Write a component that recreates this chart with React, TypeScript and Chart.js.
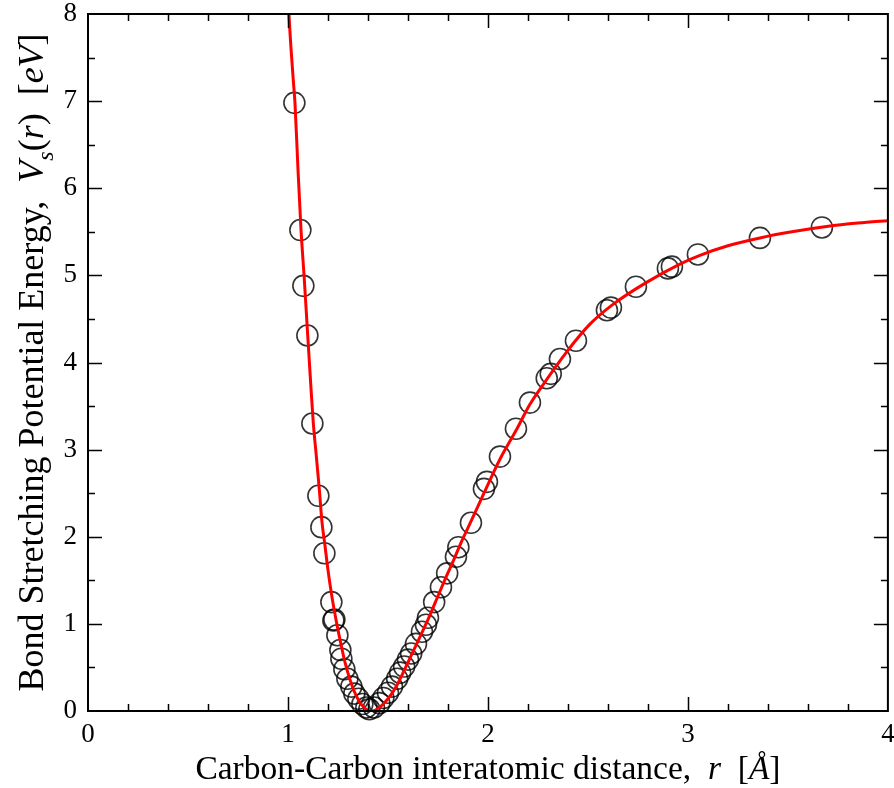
import React, { useEffect, useRef } from "react";
import { Chart, registerables } from "chart.js";

Chart.register(...registerables);

// ---- axis ranges / ticks ----
const X_MIN = 0;
const X_MAX = 4;
const Y_MIN = 0;
const Y_MAX = 8;
const X_MAJOR_STEP = 1;
const X_MINOR_STEP = 0.2;
const Y_MAJOR_STEP = 1;
const Y_MINOR_STEP = 0.5;

// ---- fitted curve (red line) ----
const fitR = [
  1.0, 1.005, 1.0265, 1.035, 1.05, 1.065, 1.0815, 1.0985, 1.1125, 1.1265, 1.1415,
  1.1565, 1.17, 1.185, 1.2, 1.2185, 1.24, 1.26, 1.285, 1.31, 1.34, 1.3685, 1.395,
  1.4185, 1.445, 1.4765, 1.51, 1.5435, 1.58, 1.627, 1.67, 1.71, 1.75, 1.793, 1.83,
  1.865, 1.918, 1.98, 2.06, 2.143, 2.21, 2.277, 2.393, 2.51, 2.627, 2.793, 2.96,
  3.06, 3.2, 3.36, 3.52, 3.693, 3.85, 4.01,
];
const fitV = [
  8.25, 7.99, 7.24, 6.98, 6.22, 5.53, 4.96, 4.32, 3.8, 3.31, 2.93, 2.55, 2.17, 1.9,
  1.62, 1.33, 1.05, 0.82, 0.56, 0.36, 0.18, 0.07, 0.015, 0.0, 0.02, 0.08, 0.17,
  0.29, 0.46, 0.69, 0.9, 1.1, 1.32, 1.55, 1.74, 1.93, 2.19, 2.5, 2.89, 3.23, 3.52,
  3.75, 4.12, 4.44, 4.67, 4.92, 5.13, 5.23, 5.34, 5.43, 5.5, 5.56, 5.6, 5.63,
];

// ---- computed points (open circles) ----
const dataR = [
  1.032, 1.062, 1.077, 1.097, 1.122, 1.152, 1.167, 1.182, 1.217, 1.227, 1.232,
  1.247, 1.262, 1.267, 1.282, 1.297, 1.317, 1.332, 1.352, 1.372, 1.392, 1.407,
  1.43, 1.457, 1.477, 1.5, 1.52, 1.546, 1.561, 1.581, 1.6, 1.616, 1.64, 1.67, 1.69,
  1.7, 1.731, 1.765, 1.796, 1.84, 1.852, 1.915, 1.98, 1.995, 2.06, 2.14, 2.21,
  2.294, 2.314, 2.36, 2.44, 2.595, 2.615, 2.74, 2.9, 2.92, 3.05, 3.36, 3.67,
];
const dataV = [
  6.98, 5.52, 4.88, 4.31, 3.3, 2.47, 2.11, 1.81, 1.25, 1.04, 1.05, 0.87, 0.7, 0.6,
  0.48, 0.37, 0.28, 0.2, 0.14, 0.08, 0.04, 0.02, 0.04, 0.09, 0.15, 0.21, 0.28,
  0.37, 0.44, 0.51, 0.59, 0.66, 0.77, 0.91, 0.99, 1.07, 1.25, 1.42, 1.58, 1.77,
  1.88, 2.16, 2.55, 2.63, 2.92, 3.24, 3.54, 3.82, 3.87, 4.04, 4.25, 4.6, 4.63,
  4.87, 5.08, 5.1, 5.24, 5.43, 5.55,
];

// ---- axis titles (text pieces with styles) ----
type Part = { t: string; italic?: boolean; sub?: boolean };
const xTitleParts: Part[] = [
  { t: "Carbon-Carbon interatomic distance,  " },
  { t: "r", italic: true },
  { t: "  [" },
  { t: "Å", italic: true },
  { t: "]" },
];
const yTitleParts: Part[] = [
  { t: "Bond Stretching Potential Energy,  " },
  { t: "V", italic: true },
  { t: "s", italic: true, sub: true },
  { t: "(" },
  { t: "r", italic: true },
  { t: ")  [" },
  { t: "eV", italic: true },
  { t: "]" },
];

const FONT = '"Liberation Serif", "Times New Roman", serif';
const X_TITLE_SIZE = 33.5;
const Y_TITLE_SIZE = 36;
const TICK_SIZE = 27;

function drawParts(
  ctx: CanvasRenderingContext2D,
  parts: Part[],
  cx: number,
  baseY: number,
  size: number
) {
  const fontFor = (p: Part) =>
    `${p.italic ? "italic " : ""}${p.sub ? Math.round(size * 0.68) : size}px ${FONT}`;
  let total = 0;
  for (const p of parts) {
    ctx.font = fontFor(p);
    total += ctx.measureText(p.t).width;
  }
  let x = cx - total / 2;
  ctx.textBaseline = "alphabetic";
  ctx.textAlign = "left";
  for (const p of parts) {
    ctx.font = fontFor(p);
    ctx.fillText(p.t, x, baseY + (p.sub ? size * 0.28 : 0));
    x += ctx.measureText(p.t).width;
  }
}

const framePlugin = {
  id: "framePlugin",
  afterDraw(chart: any) {
    const { ctx, chartArea } = chart;
    const { left, right, top, bottom } = chartArea;
    const xs = chart.scales.x;
    const ys = chart.scales.y;
    ctx.save();
    ctx.strokeStyle = "#000";
    ctx.lineWidth = 1.5;
    const MAJ = 14;
    const MIN = 7;
    ctx.beginPath();
    const nx = Math.round((X_MAX - X_MIN) / X_MINOR_STEP);
    const perX = Math.round(X_MAJOR_STEP / X_MINOR_STEP);
    for (let i = 1; i < nx; i++) {
      const v = X_MIN + i * X_MINOR_STEP;
      const px = Math.round(xs.getPixelForValue(v)) + 0.5;
      const L = i % perX === 0 ? MAJ : MIN;
      ctx.moveTo(px, bottom);
      ctx.lineTo(px, bottom - L);
      ctx.moveTo(px, top);
      ctx.lineTo(px, top + L);
    }
    const ny = Math.round((Y_MAX - Y_MIN) / Y_MINOR_STEP);
    const perY = Math.round(Y_MAJOR_STEP / Y_MINOR_STEP);
    for (let i = 1; i < ny; i++) {
      const v = Y_MIN + i * Y_MINOR_STEP;
      const py = Math.round(ys.getPixelForValue(v)) + 0.5;
      const L = i % perY === 0 ? MAJ : MIN;
      ctx.moveTo(left, py);
      ctx.lineTo(left + L, py);
      ctx.moveTo(right, py);
      ctx.lineTo(right - L, py);
    }
    ctx.stroke();
    ctx.lineWidth = 2;
    ctx.strokeRect(left, top, right - left, bottom - top);

    // titles
    ctx.fillStyle = "#000";
    drawParts(ctx, xTitleParts, (left + right) / 2, 779, X_TITLE_SIZE);
    ctx.save();
    ctx.translate(43, (top + bottom) / 2);
    ctx.rotate(-Math.PI / 2);
    drawParts(ctx, yTitleParts, 0, 0, Y_TITLE_SIZE);
    ctx.restore();
    ctx.restore();
  },
};

// canvas is slightly wider than the window so the plot frame reaches x≈888
const CANVAS_W = 900;
const CANVAS_H = 788;

export default function App() {
  const ref = useRef<HTMLCanvasElement | null>(null);
  useEffect(() => {
    if (!ref.current) return;
    const chart = new Chart(ref.current, {
      type: "scatter",
      data: {
        datasets: [
          {
            type: "line",
            label: "fit",
            data: fitR.map((r, i) => ({ x: r, y: fitV[i] })),
            borderColor: "#ff0000",
            borderWidth: 3,
            pointRadius: 0,
            showLine: true,
            fill: false,
            cubicInterpolationMode: "monotone",
            order: 0,
          } as any,
          {
            type: "scatter",
            label: "points",
            data: dataR.map((r, i) => ({ x: r, y: dataV[i] })),
            borderColor: "rgba(0,0,0,0.8)",
            backgroundColor: "rgba(0,0,0,0)",
            borderWidth: 1.6,
            pointRadius: 10.5,
            pointHoverRadius: 10.5,
            clip: false,
            order: 1,
          } as any,
        ],
      },
      options: {
        responsive: false,
        animation: false,
        devicePixelRatio: 1,
        layout: { padding: { top: 14, right: 0, left: 0, bottom: 0 } },
        plugins: { legend: { display: false }, tooltip: { enabled: false } },
        scales: {
          x: {
            type: "linear",
            min: X_MIN,
            max: X_MAX,
            grid: { display: false, drawTicks: false },
            border: { display: false },
            ticks: {
              stepSize: X_MAJOR_STEP,
              padding: 8,
              maxRotation: 0,
              color: "#000",
              font: { family: FONT, size: TICK_SIZE },
            },
            afterFit: (s: any) => {
              s.height = 77;
              s.paddingLeft = 0;
              s.paddingRight = 0;
            },
          },
          y: {
            type: "linear",
            min: Y_MIN,
            max: Y_MAX,
            grid: { display: false, drawTicks: false },
            border: { display: false },
            ticks: {
              stepSize: Y_MAJOR_STEP,
              padding: 11,
              color: "#000",
              font: { family: FONT, size: TICK_SIZE },
            },
            afterFit: (s: any) => {
              s.width = 88;
              s.paddingTop = 0;
              s.paddingBottom = 0;
            },
          },
        },
      },
      plugins: [framePlugin],
    });
    return () => chart.destroy();
  }, []);
  return (
    <div
      style={{
        position: "fixed",
        left: 0,
        top: 0,
        width: 894,
        height: 788,
        overflow: "hidden",
        background: "#fff",
      }}
    >
      <canvas ref={ref} width={CANVAS_W} height={CANVAS_H} style={{ display: "block" }} />
    </div>
  );
}
